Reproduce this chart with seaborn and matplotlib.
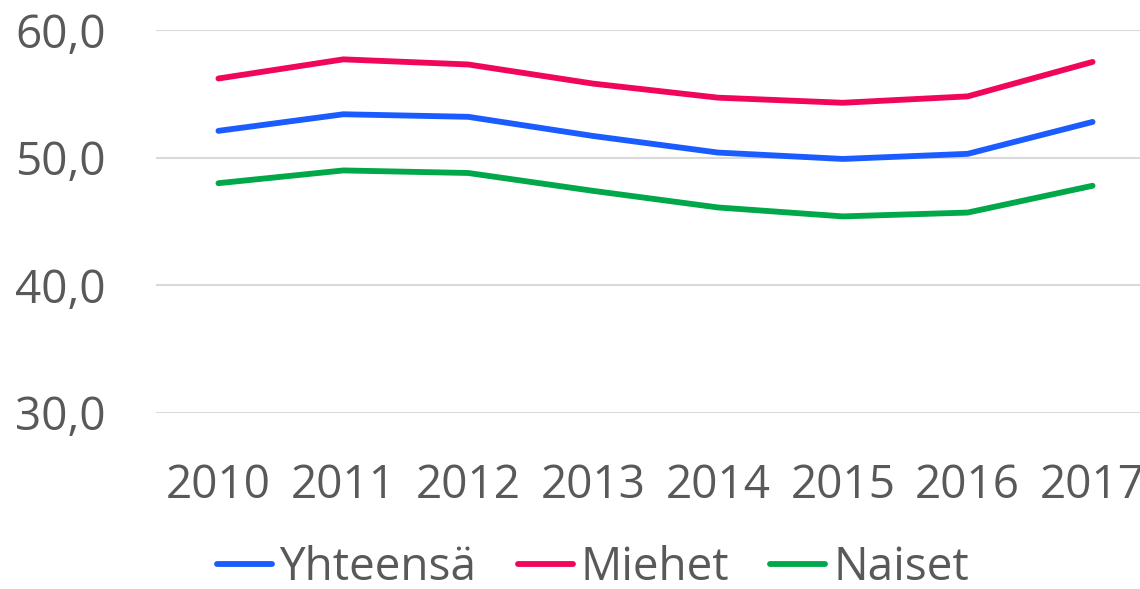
import matplotlib
matplotlib.use("Agg")
import matplotlib.pyplot as plt
import pandas as pd
import seaborn as sns

vuodet = ["2010", "2011", "2012", "2013", "2014", "2015", "2016", "2017"]
yhteensa = [52.1, 53.4, 53.2, 51.7, 50.4, 49.9, 50.3, 52.8]
miehet = [56.2, 57.7, 57.3, 55.8, 54.7, 54.3, 54.8, 57.5]
naiset = [48.0, 49.0, 48.8, 47.4, 46.1, 45.4, 45.7, 47.8]

sarjat = ["Yhteensä", "Miehet", "Naiset"]
varit = ["#1A5CFF", "#F0065A", "#00A84A"]

df = pd.DataFrame({"vuosi": vuodet * 3,
                   "arvo": yhteensa + miehet + naiset,
                   "sarja": [s for s in sarjat for _ in vuodet]})

sns.set_style("white")
plt.rcParams["font.family"] = ["Open Sans", "DejaVu Sans"]

fig = plt.figure(figsize=(11.4, 5.89), dpi=100)
ax = fig.add_axes([156 / 1140, 1 - 413 / 589, 999 / 1140, 383 / 589])

sns.lineplot(data=df, x="vuosi", y="arvo", hue="sarja", palette=varit,
             hue_order=sarjat, linewidth=4.2, ax=ax, legend=True)

ax.set_xlim(-0.5, 7.5)
ax.set_ylim(30, 60)
ax.set_yticks([30, 40, 50, 60])
ax.set_yticklabels(["30,0", "40,0", "50,0", "60,0"])
ax.yaxis.grid(True, color="#D9D9D9", linewidth=1.5)
ax.set_axisbelow(True)
for s in ax.spines.values():
    s.set_visible(False)
ax.tick_params(axis="y", length=0, pad=36, labelsize=33, labelcolor="#595959")
ax.tick_params(axis="x", length=0, pad=36, labelsize=33, labelcolor="#595959")
ax.set_xlabel("")
ax.set_ylabel("")

handles, labels = ax.get_legend_handles_labels()
ax.legend_.remove()
leg = fig.legend(handles, labels, loc="center", bbox_to_anchor=(0.52, 0.036),
                 ncol=3, frameon=False, fontsize=33, handlelength=1.2,
                 handletextpad=0.17, columnspacing=0.9)
for t in leg.get_texts():
    t.set_color("#595959")

fig.savefig("out.png", dpi=100)
